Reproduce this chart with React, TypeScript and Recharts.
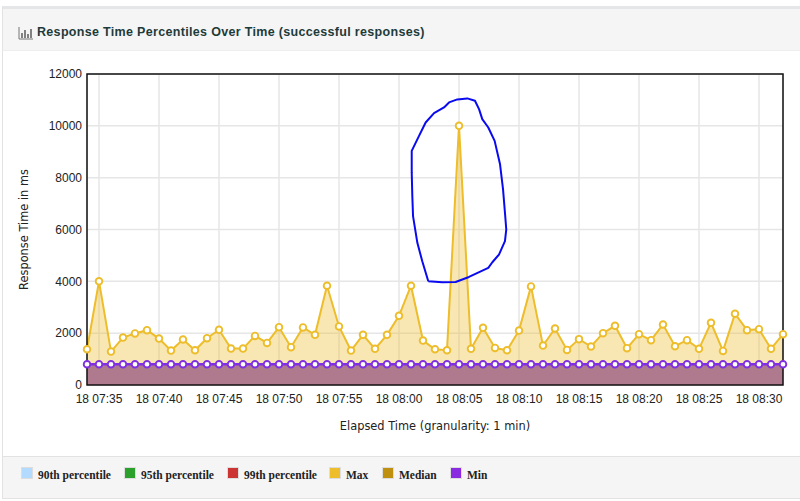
import { Area, CartesianGrid, ComposedChart, Line, ReferenceArea, XAxis, YAxis } from "recharts";

// minutes since 18 07:34
const minutes = [
  0, 1, 2, 3, 4, 5, 6, 7, 8, 9, 10, 11, 12, 13, 14, 15, 16, 17, 18, 19,
  20, 21, 22, 23, 24, 25, 26, 27, 28, 29, 30, 31, 32, 33, 34, 35, 36, 37, 38, 39,
  40, 41, 42, 43, 44, 45, 46, 47, 48, 49, 50, 51, 52, 53, 54, 55, 56, 57, 58,
];
const maxValues = [
  1380, 4000, 1290, 1830, 1990, 2115, 1790, 1330, 1755, 1340, 1805, 2130, 1405, 1405, 1895, 1625, 2230, 1460, 2220, 1935,
  3830, 2260, 1330, 1935, 1395, 1935, 2670, 3830, 1715, 1380, 1340, 10000, 1395, 2205, 1430, 1340, 2100, 3805, 1520, 2180,
  1355, 1770, 1485, 2000, 2285, 1420, 1960, 1730, 2335, 1495, 1730, 1395, 2400, 1315, 2750, 2115, 2155, 1395, 1960,
];
const minValues = [
  800, 800, 800, 800, 800, 800, 800, 800, 800, 800, 800, 800, 800, 800, 800, 800, 800, 800, 800, 800,
  800, 800, 800, 800, 800, 800, 800, 800, 800, 800, 800, 800, 800, 800, 800, 800, 800, 800, 800, 800,
  800, 800, 800, 800, 800, 800, 800, 800, 800, 800, 800, 800, 800, 800, 800, 800, 800, 800, 800,
];

const xTicks = [1, 6, 11, 16, 21, 26, 31, 36, 41, 46, 51, 56];
const xTickLabels = [
  "18 07:35", "18 07:40", "18 07:45", "18 07:50", "18 07:55", "18 08:00",
  "18 08:05", "18 08:10", "18 08:15", "18 08:20", "18 08:25", "18 08:30",
];
const yTicks = [0, 2000, 4000, 6000, 8000, 10000, 12000];

// hand drawn circle round the spike
const circleMinutes = [
  28.44, 29.61, 30.72, 31.83, 33.44, 33.78, 34.33, 34.83, 34.94, 34.83, 34.67, 34.42, 33.97, 33.44, 32.94, 32.67,
  32.33, 31.69, 30.86, 30.17, 29.75, 28.92, 28.22, 27.67, 27.06, 27.06, 27.11, 27.17, 27.53, 27.94, 28.44,
];
const circleValues = [
  4001, 3963, 3976, 4169, 4518, 4737, 5034, 5550, 6001, 6646, 7549, 8517, 9420, 9936, 10258, 10645,
  10968, 11058, 11019, 10903, 10710, 10490, 10129, 9613, 9032, 8194, 7291, 6517, 5485, 4775, 4001,
];

const legendNames = ["90th percentile", "95th percentile", "99th percentile", "Max", "Median", "Min"];
const legendColors = ["#B3DBFF", "#2CA02C", "#CC3333", "#EDBD2B", "#BF9010", "#8A2BE2"];

const chartData = minutes.map((minute, i) => ({ minute, max: maxValues[i], min: minValues[i] }));
const circleData = circleMinutes.map((minute, i) => ({ minute, circle: circleValues[i] }));

const tickStyle = { fontFamily: "Liberation Sans", fontSize: 12, fill: "#222" };
const axisTitleStyle = { fontFamily: "DejaVu Sans", fontSize: 11.4, fill: "#222" };

function openDot(color: string) {
  return { r: 3.3, fill: "#fff", stroke: color, strokeWidth: 1.9, fillOpacity: 1 };
}

export default function App() {
  return (
    <div style={{ position: "absolute", left: 0, top: 0, width: 800, height: 501, background: "#fff", overflow: "hidden" }}>
      <div
        style={{
          position: "absolute", left: 2, top: 6, width: 800, height: 45, boxSizing: "border-box",
          background: "#F5F5F5", borderTop: "3px solid #E4E6E8", borderLeft: "1px solid #E2E2E2", borderBottom: "1px solid #EEE",
        }}
      />
      <svg style={{ position: "absolute", left: 18, top: 27 }} width={15} height={13}>
        <path d="M1 0V12H15" fill="none" stroke="#777" strokeWidth={1} />
        <path d="M4 6V11M7 3V11M10 7V11M13 2V11" fill="none" stroke="#444" strokeWidth={1.3} />
      </svg>
      <div
        style={{
          position: "absolute", left: 37, top: 25, fontFamily: "Liberation Sans", fontWeight: "bold",
          fontSize: 12.5, letterSpacing: 0.32, color: "#1E3B3B", whiteSpace: "nowrap",
        }}
      >
        Response Time Percentiles Over Time (successful responses)
      </div>

      <div style={{ position: "absolute", left: 2, top: 51, width: 1, height: 447, background: "#E2E2E2" }} />

      <ComposedChart
        width={800}
        height={501}
        data={chartData}
        margin={{ top: 74, right: 17, bottom: 66, left: 47 }}
        style={{ position: "absolute", left: 0, top: 0 }}
      >
        <CartesianGrid stroke="#E6E6E6" strokeWidth={1.5} />
        <XAxis
          dataKey="minute"
          type="number"
          domain={[0, 58]}
          ticks={xTicks}
          tickFormatter={(v: number) => xTickLabels[xTicks.indexOf(v)]}
          tick={tickStyle}
          tickLine={false}
          tickSize={7}
          axisLine={false}
          interval={0}
          height={50}
          label={{ value: "Elapsed Time (granularity: 1 min)", position: "insideBottom", offset: 5, style: axisTitleStyle }}
        />
        <YAxis
          type="number"
          domain={[0, 12000]}
          ticks={yTicks}
          tick={tickStyle}
          tickLine={false}
          tickSize={3}
          axisLine={false}
          interval={0}
          width={40}
          label={{ value: "Response Time in ms", angle: -90, position: "insideLeft", offset: -23, style: { ...axisTitleStyle, textAnchor: "middle" } }}
        />
        <Area
          dataKey="max"
          type="linear"
          stroke="#EDBD2B"
          strokeWidth={2}
          fill="#EDBD2B"
          fillOpacity={0.36}
          dot={openDot("#EDBD2B")}
          isAnimationActive={false}
        />
        <Area
          dataKey="min"
          type="linear"
          stroke="#8030E0"
          strokeWidth={2.4}
          fill="#B07A8E"
          fillOpacity={1}
          dot={openDot("#8030E0")}
          isAnimationActive={false}
        />
        <ReferenceArea x1={0} x2={58} y1={0} y2={12000} fill="none" stroke="#111" strokeWidth={1.5} />
        <Line
          data={circleData}
          dataKey="circle"
          type="linear"
          stroke="#0A0AF0"
          strokeWidth={2}
          strokeLinejoin="round"
          dot={false}
          isAnimationActive={false}
        />
      </ComposedChart>

      <div
        style={{
          position: "absolute", left: 2, top: 456, width: 800, height: 43, boxSizing: "border-box",
          background: "#F5F5F5", borderTop: "1px solid #E2E2E2", borderBottom: "1px solid #E2E2E2", borderLeft: "1px solid #E2E2E2",
        }}
      />
      {legendNames.map((name, i) => {
        const left = [21, 124, 227, 329, 382, 450][i];
        return (
          <div key={name} style={{ position: "absolute", left, top: 466, display: "flex", alignItems: "center", height: 14 }}>
            <span style={{ display: "inline-block", width: 10, height: 10, background: legendColors[i], border: "1px solid #DDD", padding: 0 }} />
            <span
              style={{
                marginLeft: 5, position: "relative", top: 2, fontFamily: "Liberation Serif", fontWeight: "bold", fontSize: 11.5,
                color: "#222", whiteSpace: "nowrap",
              }}
            >
              {name}
            </span>
          </div>
        );
      })}
    </div>
  );
}
